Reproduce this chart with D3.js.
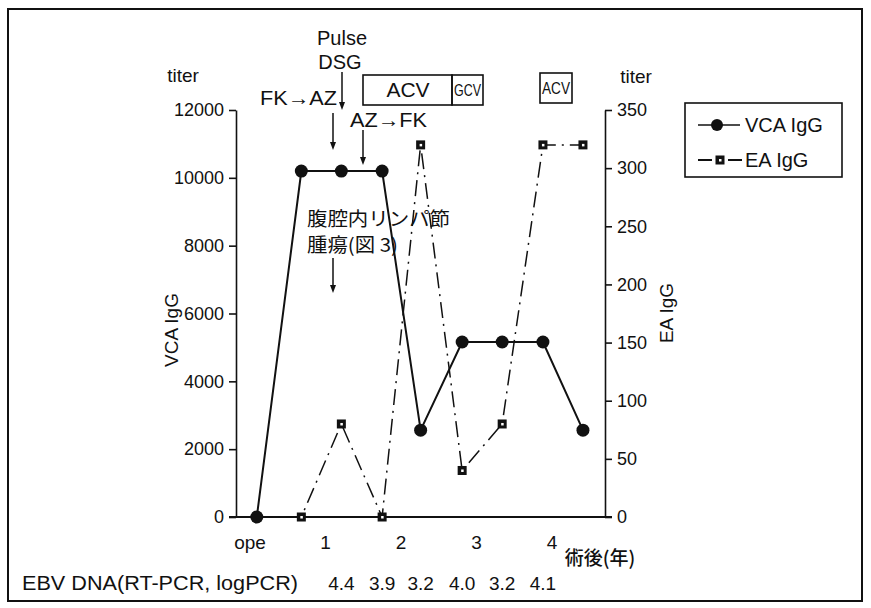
<!DOCTYPE html>
<html lang="ja">
  <head>
    <meta charset="utf-8">
    <title>VCA IgG / EA IgG</title>
    <script src="https://d3js.org/d3.v7.min.js"></script>
    <style>
      body { margin: 0; background: #fff; }
      text { font-family: "Liberation Sans", Arial, sans-serif; fill: #111; }
      .jp { font-family: "Noto Sans CJK JP", sans-serif; }
      .axis path, .axis line { stroke: #111; stroke-width: 1.6; }
      .axis text { font-size: 18px; }
    </style>
  </head>
  <body>
    <div class="chart"></div>
    <script>
      // sampling points (years after operation)
      const sampleYears = [0.09, 0.68, 1.21, 1.75, 2.26, 2.81, 3.34, 3.88, 4.41];
      const vcaValues = [0, 10200, 10200, 10200, 2560, 5160, 5160, 5160, 2560];
      const eaValues = [0, 0, 80, 0, 320, 40, 80, 320, 320];
      // EBV DNA values sit under samples 2..7
      const ebvValues = ['4.4', '3.9', '3.2', '4.0', '3.2', '4.1'];
      const ebvStart = 2;
      const xTickValues = [0, 1, 2, 3, 4];
      const xTickLabels = ['ope', '1', '2', '3', '4'];
      const leftTicks = [0, 2000, 4000, 6000, 8000, 10000, 12000];
      const rightTicks = [0, 50, 100, 150, 200, 250, 300, 350];

      const width = 871, height = 608;
      const plotLeft = 236, plotRight = 605, plotTop = 110, plotBottom = 517;

      const svg = d3.select('.chart')
          .append('svg')
          .attr('width', width)
          .attr('height', height);

      // outer frame
      svg.append('rect')
          .attr('x', 8).attr('y', 9)
          .attr('width', 854).attr('height', 592)
          .attr('fill', 'none')
          .attr('stroke', '#111')
          .attr('stroke-width', 2);

      const xScale = d3.scaleLinear().domain([0, 4]).range([250, 552]);
      const yLeft = d3.scaleLinear().domain([0, 12000]).range([plotBottom, plotTop]);
      const yRight = d3.scaleLinear().domain([0, 350]).range([plotBottom, plotTop]);

      // axes
      svg.append('g')
          .attr('class', 'axis y-left')
          .attr('transform', `translate(${plotLeft},0)`)
          .call(d3.axisLeft(yLeft).tickValues(leftTicks).tickFormat(d3.format('d'))
              .tickSize(7).tickSizeOuter(0).tickPadding(5));

      svg.append('g')
          .attr('class', 'axis y-right')
          .attr('transform', `translate(${plotRight},0)`)
          .call(d3.axisRight(yRight).tickValues(rightTicks).tickFormat(d3.format('d'))
              .tickSize(7).tickSizeOuter(0).tickPadding(5));

      svg.append('line')
          .attr('x1', plotLeft - 7).attr('x2', plotRight + 7)
          .attr('y1', plotBottom).attr('y2', plotBottom)
          .attr('stroke', '#111').attr('stroke-width', 2);

      svg.selectAll('.xlab')
          .data(xTickValues)
          .enter()
          .append('text')
          .attr('class', 'xlab')
          .attr('x', d => xScale(d))
          .attr('y', 549)
          .attr('text-anchor', 'middle')
          .attr('font-size', 19)
          .text((d, i) => xTickLabels[i]);

      svg.append('text')
          .attr('class', 'jp')
          .attr('x', 600).attr('y', 565)
          .attr('text-anchor', 'middle')
          .attr('font-size', 19)
          .attr('font-weight', 500)
          .text('術後(年)');

      // titles
      svg.append('text').attr('x', 183).attr('y', 82).attr('text-anchor', 'middle')
          .attr('font-size', 19).text('titer');
      svg.append('text').attr('x', 636).attr('y', 83).attr('text-anchor', 'middle')
          .attr('font-size', 19).text('titer');

      svg.append('text')
          .attr('transform', 'translate(178,330) rotate(-90)')
          .attr('text-anchor', 'middle')
          .attr('font-size', 19)
          .text('VCA IgG');
      svg.append('text')
          .attr('transform', 'translate(673,313) rotate(-90)')
          .attr('text-anchor', 'middle')
          .attr('font-size', 19)
          .text('EA IgG');

      const vcaData = sampleYears.map((t, i) => ({t: t, v: vcaValues[i]}));
      const eaData = sampleYears.map((t, i) => ({t: t, v: eaValues[i]}));

      // EA IgG (right axis), dash-dot line
      svg.append('path')
          .datum(eaData)
          .attr('fill', 'none')
          .attr('stroke', '#111')
          .attr('stroke-width', 1.5)
          .attr('stroke-dasharray', '16,6,2,6')
          .attr('d', d3.line().x(d => xScale(d.t)).y(d => yRight(d.v)));

      // VCA IgG (left axis), solid line
      svg.append('path')
          .datum(vcaData)
          .attr('fill', 'none')
          .attr('stroke', '#111')
          .attr('stroke-width', 2)
          .attr('d', d3.line().x(d => xScale(d.t)).y(d => yLeft(d.v)));

      svg.selectAll('.ea')
          .data(eaData)
          .enter()
          .append('rect')
          .attr('class', 'ea')
          .attr('x', d => xScale(d.t) - 4.5)
          .attr('y', d => yRight(d.v) - 4.5)
          .attr('width', 9).attr('height', 9)
          .attr('fill', '#111');
      svg.selectAll('.ea-in')
          .data(eaData)
          .enter()
          .append('rect')
          .attr('class', 'ea-in')
          .attr('x', d => xScale(d.t) - 1)
          .attr('y', d => yRight(d.v) - 1)
          .attr('width', 2.5).attr('height', 2.5)
          .attr('fill', '#fff');

      svg.selectAll('.vca')
          .data(vcaData)
          .enter()
          .append('circle')
          .attr('class', 'vca')
          .attr('cx', d => xScale(d.t))
          .attr('cy', d => yLeft(d.v))
          .attr('r', 6.5)
          .attr('fill', '#111');

      // EBV DNA row
      svg.append('text')
          .attr('x', 22).attr('y', 590)
          .attr('font-size', 20)
          .attr('textLength', 276)
          .attr('lengthAdjust', 'spacingAndGlyphs')
          .text('EBV DNA(RT-PCR, logPCR)');

      svg.selectAll('.ebv')
          .data(ebvValues)
          .enter()
          .append('text')
          .attr('class', 'ebv')
          .attr('x', (d, i) => xScale(sampleYears[i + ebvStart]))
          .attr('y', 590)
          .attr('text-anchor', 'middle')
          .attr('font-size', 19)
          .text(d => d);

      // legend
      svg.append('rect')
          .attr('x', 685).attr('y', 103)
          .attr('width', 157).attr('height', 74)
          .attr('fill', 'none').attr('stroke', '#111').attr('stroke-width', 1.6);
      svg.append('line').attr('x1', 698).attr('x2', 740).attr('y1', 125).attr('y2', 125)
          .attr('stroke', '#111').attr('stroke-width', 1.5);
      svg.append('circle').attr('cx', 717).attr('cy', 125).attr('r', 6).attr('fill', '#111');
      svg.append('text').attr('x', 745).attr('y', 132).attr('font-size', 20).text('VCA IgG');
      svg.append('line').attr('x1', 698).attr('x2', 742).attr('y1', 160).attr('y2', 160)
          .attr('stroke', '#111').attr('stroke-width', 2).attr('stroke-dasharray', '14,16,14');
      svg.append('rect').attr('x', 715.5).attr('y', 155.5).attr('width', 9).attr('height', 9).attr('fill', '#111');
      svg.append('rect').attr('x', 719).attr('y', 159).attr('width', 2.5).attr('height', 2.5).attr('fill', '#fff');
      svg.append('text').attr('x', 745).attr('y', 167).attr('font-size', 20).text('EA IgG');

      // treatment annotations
      const arrow = (x, y1, y2) => {
        svg.append('line').attr('x1', x).attr('x2', x).attr('y1', y1).attr('y2', y2 - 6)
            .attr('stroke', '#111').attr('stroke-width', 1.5);
        svg.append('path')
            .attr('d', `M${x - 3},${y2 - 8} L${x + 3},${y2 - 8} L${x},${y2} Z`)
            .attr('fill', '#111');
      };

      svg.append('text').attr('x', 342).attr('y', 45).attr('text-anchor', 'middle')
          .attr('font-size', 20).text('Pulse');
      svg.append('text').attr('x', 340).attr('y', 69).attr('text-anchor', 'middle')
          .attr('font-size', 20).text('DSG');
      arrow(342, 72, 110);

      svg.append('text').attr('x', 260).attr('y', 105).attr('font-size', 20)
          .attr('textLength', 77).attr('lengthAdjust', 'spacingAndGlyphs').text('FK→AZ');
      arrow(333, 113, 150);

      svg.append('text').attr('x', 350).attr('y', 127).attr('font-size', 20)
          .attr('textLength', 77).attr('lengthAdjust', 'spacingAndGlyphs').text('AZ→FK');
      arrow(363, 130, 165);

      svg.append('rect').attr('x', 363).attr('y', 75).attr('width', 89).attr('height', 30)
          .attr('fill', 'none').attr('stroke', '#111').attr('stroke-width', 1.6);
      svg.append('rect').attr('x', 452).attr('y', 75).attr('width', 31).attr('height', 30)
          .attr('fill', 'none').attr('stroke', '#111').attr('stroke-width', 1.6);
      svg.append('text').attr('x', 408).attr('y', 97).attr('text-anchor', 'middle')
          .attr('font-size', 21).text('ACV');
      svg.append('text').attr('x', 454).attr('y', 96).attr('font-size', 16)
          .attr('textLength', 27).attr('lengthAdjust', 'spacingAndGlyphs').text('GCV');

      svg.append('rect').attr('x', 540).attr('y', 73).attr('width', 32).attr('height', 30)
          .attr('fill', 'none').attr('stroke', '#111').attr('stroke-width', 1.6);
      svg.append('text').attr('x', 542).attr('y', 94).attr('font-size', 16)
          .attr('textLength', 28).attr('lengthAdjust', 'spacingAndGlyphs').text('ACV');

      svg.append('text').attr('class', 'jp').attr('x', 307).attr('y', 226)
          .attr('font-size', 19).attr('textLength', 143).attr('lengthAdjust', 'spacingAndGlyphs')
          .text('腹腔内リンパ節');
      svg.append('text').attr('class', 'jp').attr('x', 307).attr('y', 252)
          .attr('font-size', 19).attr('textLength', 91).attr('lengthAdjust', 'spacingAndGlyphs')
          .text('腫瘍(図 3)');
      arrow(333, 258, 293);
    </script>
  </body>
</html>
